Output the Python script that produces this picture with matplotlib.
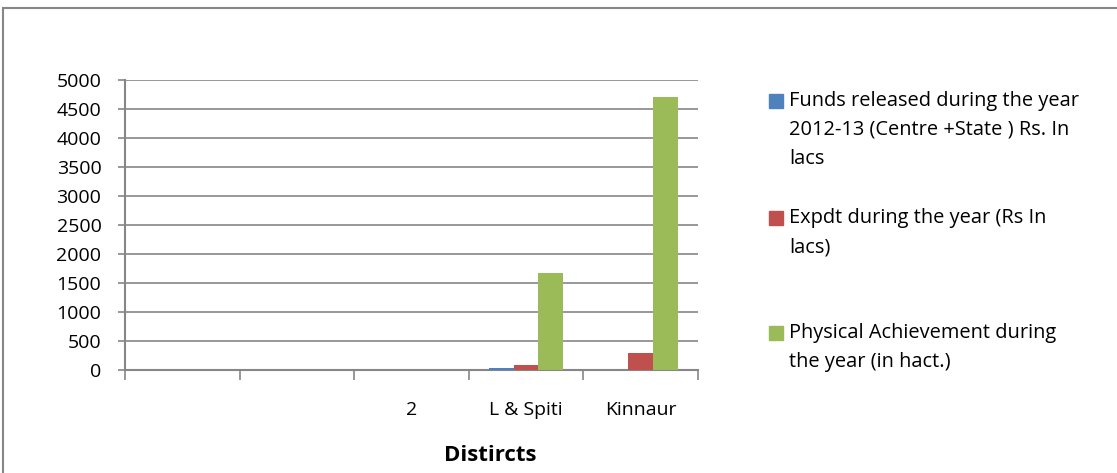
import matplotlib.pyplot as plt
import matplotlib.patches as mpatches
import numpy as np

plt.rcParams['font.family'] = ['Open Sans', 'DejaVu Sans']

districts = ['', '', '2', 'L & Spiti', 'Kinnaur']
funds = [0, 0, 0, 30, 0]
expdt = [0, 0, 0, 80, 290]
physical = [0, 0, 0, 1670, 4700]

labels = [['Funds released during the year', '2012-13 (Centre +State ) Rs. In', 'lacs'],
          ['Expdt during the year (Rs In', 'lacs)'],
          ['Physical Achievement during', 'the year (in hact.)']]
colors = ['#4F81BD', '#C0504D', '#9BBB59']

W, H = 1117, 473
fig = plt.figure(figsize=(W / 100, H / 100), dpi=100)
# outer chart border
fig.patches.append(mpatches.Rectangle((3 / W, -0.05), 1.2, (H - 8) / H + 0.05,
                                      transform=fig.transFigure, fill=False,
                                      edgecolor='#868686', linewidth=1.5))

ax = fig.add_axes([125 / W, 103 / H, 573 / W, 290 / H])
x = np.arange(len(districts))
w = 0.215
ax.bar(x - w, funds, w, color=colors[0], zorder=3)
ax.bar(x, expdt, w, color=colors[1], zorder=3)
ax.bar(x + w, physical, w, color=colors[2], zorder=3)

ax.set_ylim(0, 5000)
ax.set_xlim(-0.5, len(districts) - 0.5)
ax.set_yticks(range(0, 5001, 500))
ax.yaxis.grid(True, color='#868686', linewidth=1.2, zorder=0)
ax.tick_params(axis='y', labelsize=14, length=5, color='#868686', width=1.2, pad=12)
for s in ['top', 'right']:
    ax.spines[s].set_visible(False)
for s in ['left', 'bottom']:
    ax.spines[s].set_color('#868686')
    ax.spines[s].set_linewidth(1.5)

ax.set_xticks(np.arange(-0.5, len(districts), 1.0))
ax.set_xticklabels([])
ax.set_xticks(x, minor=True)
ax.set_xticklabels(districts, minor=True)
ax.tick_params(axis='x', which='major', length=7, color='#868686', width=1.2)
ax.tick_params(axis='x', which='minor', length=0, labelsize=14, pad=22)

fig.text(490 / W, 18 / H, 'Distircts', fontsize=16, fontweight='bold',
         ha='center', va='center')

# legend, drawn by hand so squares sit on the first line
first_line_y = [101, 218, 333]
for lines, c, y0 in zip(labels, colors, first_line_y):
    fig.patches.append(mpatches.Rectangle((769 / W, 1 - (y0 + 7) / H), 14 / W, 14 / H,
                                          transform=fig.transFigure, color=c))
    for i, line in enumerate(lines):
        fig.text(789 / W, 1 - (y0 + 29 * i) / H, line, fontsize=14.4,
                 ha='left', va='center')

fig.savefig('out.png', dpi=100)
